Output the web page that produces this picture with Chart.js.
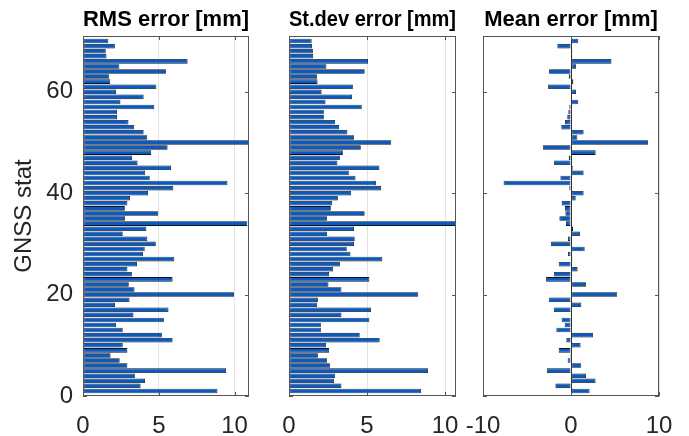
<!DOCTYPE html>
<html>
<head>
<meta charset="utf-8">
<script src="https://cdn.jsdelivr.net/npm/chart.js@4"></script>
<style>
  html, body { margin: 0; padding: 0; background: #fff; }
  #wrap { position: relative; width: 689px; height: 436px; overflow: hidden; }
  canvas { position: absolute; top: 0; }
</style>
</head>
<body>
<div id="wrap">
  <canvas id="rms" width="260" height="436" style="left:0px"></canvas>
  <canvas id="std" width="200" height="436" style="left:270px"></canvas>
  <canvas id="mean" width="239" height="436" style="left:450px"></canvas>
</div>
<script>
// station numbers (bottom to top)
const stations = [1, 2, 3, 4, 5, 6, 7, 8, 9, 10, 11, 12, 13, 14, 15, 16, 17, 18, 19, 20,
  21, 22, 23, 24, 25, 26, 27, 28, 29, 30, 31, 32, 33, 34, 35, 36, 37, 38, 39, 40,
  41, 42, 43, 44, 45, 46, 47, 48, 49, 50, 51, 52, 53, 54, 55, 56, 57, 58, 59, 60,
  61, 62, 63, 64, 65, 66, 67, 68, 69, 70];

const rmsErr = [8.87, 3.80, 4.09, 3.42, 9.44, 2.93, 2.42, 1.82, 2.93, 2.62,
  5.91, 5.20, 2.62, 2.18, 5.33, 3.33, 5.64, 2.11, 3.07, 9.96,
  3.40, 3.02, 5.91, 3.22, 2.93, 3.56, 6.02, 3.96, 4.07, 4.80,
  4.24, 2.62, 4.18, 10.84, 2.77, 4.96, 2.76, 2.93, 3.10, 4.29,
  5.96, 9.53, 4.40, 4.10, 5.80, 3.60, 3.24, 4.50, 5.58, 10.95,
  4.24, 4.00, 3.36, 3.00, 2.24, 2.24, 4.70, 2.47, 4.00, 2.18,
  4.84, 1.80, 1.73, 5.47, 2.40, 6.90, 1.55, 1.50, 2.10, 1.67];

const stdErr = [8.47, 3.36, 2.89, 2.96, 8.91, 2.64, 2.43, 1.85, 2.57, 2.38,
  5.81, 4.53, 2.04, 2.04, 5.15, 3.36, 5.26, 1.81, 1.85, 8.28,
  3.36, 2.53, 5.15, 2.57, 2.83, 3.26, 5.98, 3.94, 3.70, 4.17,
  4.21, 2.43, 4.17, 10.70, 2.43, 4.85, 2.68, 2.77, 3.13, 3.98,
  5.91, 5.57, 4.26, 3.83, 5.79, 3.10, 3.26, 3.45, 4.60, 6.55,
  4.17, 3.74, 3.21, 2.96, 2.23, 2.23, 4.66, 2.34, 4.04, 2.09,
  4.09, 1.83, 1.79, 4.85, 2.40, 5.06, 1.55, 1.53, 1.47, 1.45];

const meanErr = [2.11, -1.77, 2.79, 1.70, -2.75, 1.17, -0.38, -0.11, -1.40, 1.09,
  -0.53, 2.49, -1.66, -0.72, -1.06, 0.11, -1.96, 1.17, -2.53, 5.25,
  0.04, 1.70, -2.83, -1.96, 0.75, -1.40, 0.15, -0.34, 1.55, -2.26,
  -0.34, 1.02, 0.23, -0.57, -1.32, -0.64, -0.68, -1.06, 0.53, 1.43,
  -0.19, -7.66, -1.20, 1.43, 0.19, -1.92, -0.26, 2.80, -3.20, 8.75,
  0.72, 1.43, -1.10, -0.68, -0.42, -0.30, -0.19, 0.83, 0.08, 0.57,
  -2.60, 0.26, -0.26, -2.49, 0.57, 4.60, 0.15, 0.15, -1.55, 0.83];

const FONT = '"Liberation Sans", Arial, Helvetica, sans-serif';
const TICK_COLOR = '#262626';

// box around the axes, inward tick marks, zero baseline
const framePlugin = {
  id: 'frame',
  afterDatasetsDraw(chart, args, opts) {
    const { ctx, chartArea: a, scales } = chart;
    ctx.save();
    ctx.lineWidth = 1;
    if (opts.baseline) {
      const x0 = Math.round(scales.x.getPixelForValue(0)) + 0.5;
      ctx.strokeStyle = '#333';
      ctx.beginPath();
      ctx.moveTo(x0, a.top);
      ctx.lineTo(x0, a.bottom);
      ctx.stroke();
    }
    ctx.strokeStyle = '#555';
    ctx.beginPath();
    scales.x.ticks.forEach(t => {
      const x = Math.round(scales.x.getPixelForValue(t.value)) + 0.5;
      ctx.moveTo(x, a.bottom); ctx.lineTo(x, a.bottom - 4);
      ctx.moveTo(x, a.top); ctx.lineTo(x, a.top + 4);
    });
    scales.y.ticks.forEach(t => {
      const y = Math.round(scales.y.getPixelForValue(t.value)) + 0.5;
      ctx.moveTo(a.left, y); ctx.lineTo(a.left + 4, y);
      ctx.moveTo(a.right, y); ctx.lineTo(a.right - 4, y);
    });
    ctx.stroke();
    ctx.strokeRect(Math.round(a.left) + 0.5, Math.round(a.top) + 0.5,
      Math.round(a.width) - 1, Math.round(a.height) - 1);
    ctx.restore();
  }
};

function makePanel(id, title, values, xMin, xMax, xStep, yAxisW, padRight, showY) {
  return new Chart(document.getElementById(id), {
    type: 'bar',
    data: {
      labels: stations,
      datasets: [{
        data: values,
        backgroundColor: '#0a5ac0',
        borderColor: '#081426',
        borderWidth: 0.8,
        borderSkipped: false,
        barPercentage: 0.9,
        categoryPercentage: 1.0,
      }],
    },
    options: {
      indexAxis: 'y',
      responsive: false,
      animation: false,
      devicePixelRatio: 1,
      layout: { padding: { left: 0, right: padRight, top: 0, bottom: 0 } },
      scales: {
        x: {
          type: 'linear',
          min: xMin,
          max: xMax,
          afterFit: s => { s.height = 40; },
          ticks: {
            stepSize: xStep,
            includeBounds: false,
            maxRotation: 0,
            padding: 8,
            color: TICK_COLOR,
            font: { family: FONT, size: 24, lineHeight: 1.85 },
          },
          grid: { color: '#e3e3e3', drawTicks: false },
          border: { display: false },
        },
        y: {
          type: 'linear',
          min: 0,
          max: 71,
          offset: false,
          afterFit: s => { s.width = yAxisW; },
          ticks: {
            display: showY,
            stepSize: 20,
            includeBounds: false,
            padding: 10,
            color: TICK_COLOR,
            font: { family: FONT, size: 24 },
          },
          grid: { display: false, drawTicks: false, offset: false },
          border: { display: false },
          title: {
            display: showY,
            text: 'GNSS stat',
            color: TICK_COLOR,
            font: { family: FONT, size: 24 },
            padding: { top: 10, bottom: 0 },
          },
        },
      },
      plugins: {
        legend: { display: false },
        tooltip: { enabled: false },
        title: {
          display: true,
          text: title,
          fullSize: false,
          color: '#000',
          font: { family: FONT, size: 22, weight: 'bold', lineHeight: 1.2 },
          padding: { top: 7, bottom: 2.6 },
        },
        frame: { baseline: id === 'mean' },
      },
    },
    plugins: [framePlugin],
  });
}

makePanel('rms', 'RMS error [mm]', rmsErr, 0, 10.95, 5, 83, 11, true);
makePanel('std', 'St.dev error [mm]', stdErr, 0, 10.7, 5, 19, 14, false);
makePanel('mean', 'Mean error [mm]', meanErr, -10, 10, 10, 33, 30, false);
</script>
</body>
</html>
